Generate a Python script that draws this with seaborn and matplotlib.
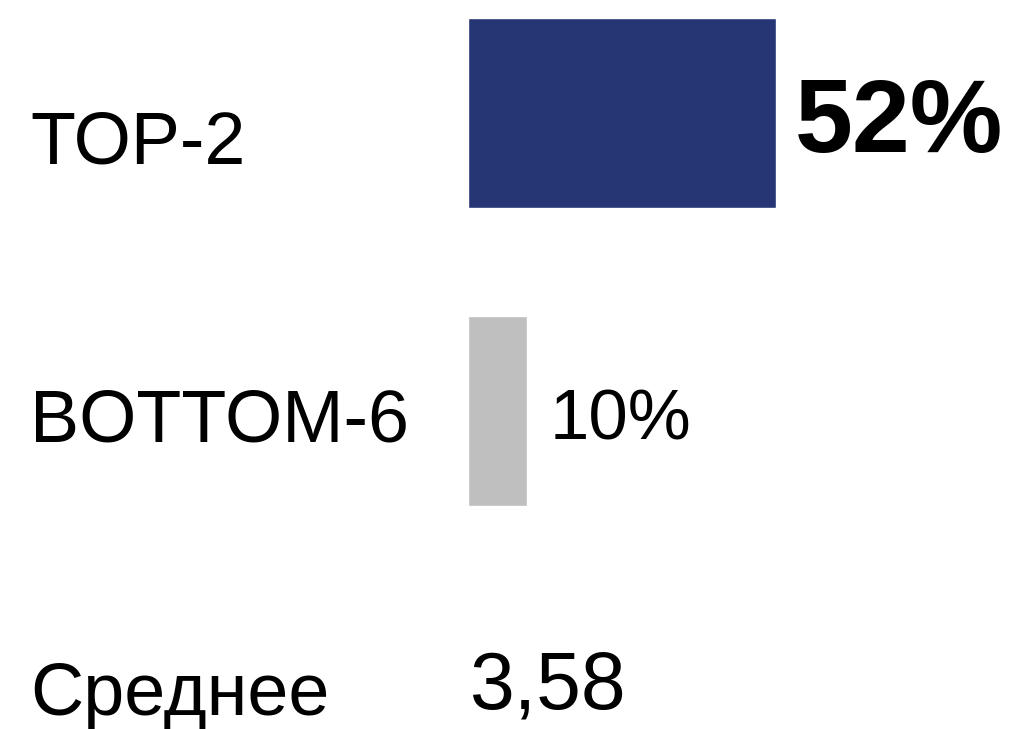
import matplotlib
matplotlib.use('Agg')
import matplotlib.pyplot as plt
import matplotlib.transforms as mtransforms
import pandas as pd
import seaborn as sns

kategorii = ['TOP-2', 'BOTTOM-6', 'Среднее']
bar_kategorii = ['TOP-2', 'BOTTOM-6']
znacheniya = [52, 10]
podpisi = ['52%', '10%']
srednee = '3,58'
cveta = {'TOP-2': '#263574', 'BOTTOM-6': '#BFBFBF'}

sns.set_style('white')
plt.rcParams['font.family'] = ['Liberation Sans', 'DejaVu Sans']
plt.rcParams['text.color'] = 'black'

df = pd.DataFrame({'kategoriya': bar_kategorii, 'znachenie': znacheniya})

fig = plt.figure(figsize=(10.18, 7.29), dpi=100)
ax = fig.add_axes([468 / 1018, 0, 550 / 1018, 1])

sns.barplot(data=df, x='znachenie', y='kategoriya', hue='kategoriya', order=kategorii,
            palette=cveta, width=0.638, legend=False, ax=ax, saturation=1)

ax.set_xlim(0, 550 / 5.92)
ax.set_ylim(2.067, -0.379)
ax.set_axis_off()

# подписи категорий слева
trans = mtransforms.blended_transform_factory(fig.transFigure, ax.transData)
bazy = [0.168, 1.101, 2.020]
for kat, y in zip(kategorii, bazy):
    ax.text(30 / 1018, y, kat, transform=trans, fontsize=53, va='baseline', ha='left',
            color='black')

# значения у столбцов
ax.annotate(podpisi[0], xy=(znacheniya[0], 0.131), xytext=(19, 0), textcoords='offset pixels',
            fontsize=75, fontweight='bold', va='baseline', ha='left', color='black')
ax.annotate(podpisi[1], xy=(znacheniya[1], 1.097), xytext=(22, 0), textcoords='offset pixels',
            fontsize=51, va='baseline', ha='left', color='black')
ax.annotate(srednee, xy=(0, 1.997), xytext=(2, 0), textcoords='offset pixels',
            fontsize=58, va='baseline', ha='left', color='black')

fig.savefig('out.png', dpi=100)
